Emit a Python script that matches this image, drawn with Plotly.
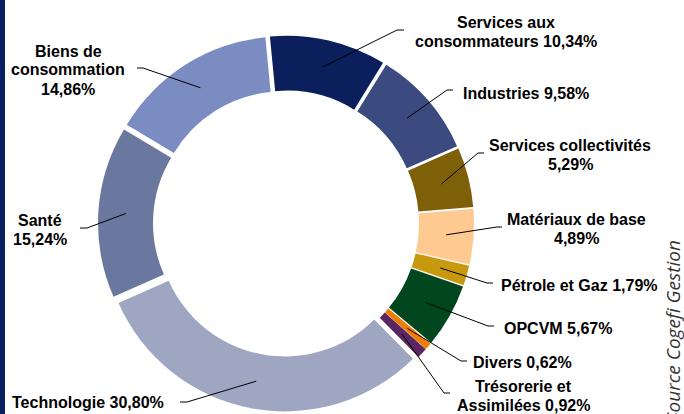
import math
import plotly.graph_objects as go

# ---- data ----
categories = [
    "Services aux consommateurs", "Industries", "Services collectivités",
    "Matériaux de base", "Pétrole et Gaz", "OPCVM", "Divers",
    "Trésorerie et Assimilées", "Technologie", "Santé", "Biens de consommation",
]
values = [10.34, 9.58, 5.29, 4.89, 1.79, 5.67, 0.62, 0.92, 30.80, 15.24, 14.86]
# how each label text is broken into lines ("{v}" = value)
label_templates = [
    "Services aux\nconsommateurs {v}", "Industries {v}", "Services collectivités\n{v}",
    "Matériaux de base\n{v}", "Pétrole et Gaz {v}", "OPCVM {v}", "Divers {v}",
    "Trésorerie et\nAssimilées {v}", "Technologie {v}", "Santé\n{v}",
    "Biens de\nconsommation\n{v}",
]
source_text = "Source Cogefi Gestion"

# ---- styles / layout ----
colors = ["#0b1f5c", "#3b4b80", "#7e6008", "#ffc992", "#c8990e", "#00471f",
          "#f07c00", "#5a2560", "#9ea6c2", "#6a789f", "#7b8cc3"]
W, H = 684, 414
CX, CY = 286, 223.5
R_OUT, R_IN = 182, 127
PULL_PX = 6.0
ROT = -5.5
# label anchor (center x, first line center y), leader elbow and end (pixels)
label_pos = [(506, 22), (526, 93), (570, 145), (576, 219), (579, 285), (558, 328),
             (522, 362), (523, 386), (88, 402), (40, 220), (68, 51)]
elbows = [(397, 30), (447, 90), (478, 153), (497, 227), (487, 283), (488, 326),
          (461, 361), (444, 393), (187, 402), (87, 228), (143, 68)]
ends = [(404, 30), (453, 90), (484, 153), (502, 227), (493, 283), (494, 326),
        (467, 361), (450, 393), (180, 402), (80, 228), (137, 68)]
LINE_H = 19

def px(x):
    return x / W

def py(y):
    return 1 - y / H

pull = PULL_PX / R_OUT
R_DOM = R_OUT * (1 + pull)
fig = go.Figure(go.Pie(
    labels=categories, values=values, sort=False, direction="clockwise",
    rotation=ROT, hole=R_IN / R_OUT, pull=[pull] * len(values),
    marker=dict(colors=colors, line=dict(width=0)),
    textinfo="none", hoverinfo="label+percent", showlegend=False,
    domain=dict(x=[px(CX - R_DOM), px(CX + R_DOM)], y=[py(CY + R_DOM), py(CY - R_DOM)]),
))

shapes = [dict(type="rect", xref="paper", yref="paper", x0=0, x1=px(5), y0=0, y1=1,
               fillcolor="#0a2161", line=dict(width=0), layer="above")]
annotations = []
total = sum(values)
cum = 0.0
r_mid = (R_OUT + R_IN) / 2 + PULL_PX
for i, v in enumerate(values):
    mid = ROT + (cum + v / 2) / total * 360
    cum += v
    a = math.radians(mid)
    sx, sy = CX + r_mid * math.sin(a), CY - r_mid * math.cos(a)
    ex, ey = elbows[i]
    fx, fy = ends[i]
    for (x0, y0, x1, y1) in [(sx, sy, ex, ey), (ex, ey, fx, fy)]:
        shapes.append(dict(type="line", xref="paper", yref="paper",
                           x0=px(x0), y0=py(y0), x1=px(x1), y1=py(y1),
                           line=dict(color="black", width=1)))
    txt = label_templates[i].format(v=f"{v:.2f}".replace(".", ",") + "%")
    lx, ly = label_pos[i]
    for j, line in enumerate(txt.split("\n")):
        annotations.append(dict(
            x=px(lx), y=py(ly + j * LINE_H), xref="paper", yref="paper",
            text=f"<b>{line}</b>", showarrow=False, xanchor="center", yanchor="middle",
            font=dict(family="Liberation Sans, Arial", size=16, color="black")))

annotations.append(dict(
    x=px(673), y=py(331), xref="paper", yref="paper", text=f"<i>{source_text}</i>",
    textangle=-90, showarrow=False, xanchor="center", yanchor="middle",
    font=dict(family="Open Sans", size=19, color="#333333")))

fig.update_layout(
    width=W, height=H, margin=dict(l=0, r=0, t=0, b=0),
    paper_bgcolor="white", plot_bgcolor="white",
    shapes=shapes, annotations=annotations,
)
fig.write_html("out.html", config={"displayModeBar": False},
               post_script="document.body.style.margin='0';document.body.style.overflow='hidden';")
